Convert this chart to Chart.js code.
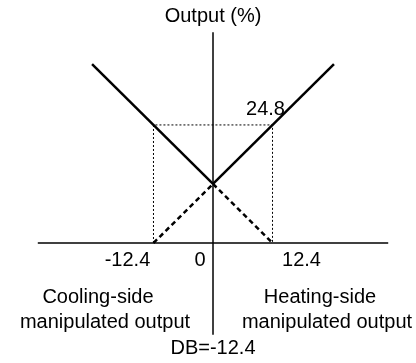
<!DOCTYPE html>
<html>
<head>
<meta charset="utf-8">
<script src="https://cdn.jsdelivr.net/npm/chart.js@4/dist/chart.umd.min.js"></script>
<style>
  html, body { margin: 0; padding: 0; background: #fff; }
  #wrap { width: 416px; height: 363px; }
</style>
</head>
<body>
<div id="wrap"><canvas id="myChart" width="416" height="363"></canvas></div>
<script>
// dead band and the output where both sides meet
const db = 12.4;
const crossOutput = 12.4;
const guideOutput = 24.8;

// cooling side: solid part above the crossing, dashed continuation below
const coolSolidX = [-25.2, 0];
const coolSolidY = [37.6, 12.4];
const coolDashX = [0, 12.4];
const coolDashY = [12.4, 0];

// heating side
const heatSolidX = [0, 25.2];
const heatSolidY = [12.4, 37.6];
const heatDashX = [-12.4, 0];
const heatDashY = [0, 12.4];

// dotted guide box
const guideX = [-12.4, -12.4, 12.4, 12.4];
const guideY = [0, 24.8, 24.8, 0];

// axis extents
const axisXRange = [-36.5, 36.5];
const axisYRange = [-19.3, 44.3];

// tick labels under the horizontal axis
const tickValues = [-12.4, 0, 12.4];
const tickLabels = ['-12.4', '0', '12.4'];

function pts(xs, ys) {
    return xs.map(function (x, i) { return { x: x, y: ys[i] }; });
}

function line(data, width, dash) {
    return {
        data: data,
        showLine: true,
        borderColor: '#000',
        borderWidth: width,
        borderDash: dash || [],
        pointRadius: 0,
        fill: false,
        tension: 0
    };
}

const FONT = '20px "Liberation Sans", Arial, sans-serif';

// text labels placed from the scale positions
const labelPlugin = {
    id: 'labels',
    afterDatasetsDraw: function (chart) {
        const ctx = chart.ctx;
        const xs = chart.scales.x, ys = chart.scales.y;
        const x0 = xs.getPixelForValue(0);
        const y0 = ys.getPixelForValue(0);
        ctx.save();
        ctx.fillStyle = '#000';
        ctx.font = FONT;
        ctx.textBaseline = 'middle';
        ctx.textAlign = 'center';

        ctx.fillText('Output (%)', x0, ys.getPixelForValue(axisYRange[1]) - 16);
        ctx.fillText(guideOutput.toFixed(1), xs.getPixelForValue(db) - 7, ys.getPixelForValue(guideOutput) - 15);

        // tick labels sit beside their positions
        const offsets = [-26, -13, 29];
        tickValues.forEach(function (v, i) {
            ctx.fillText(tickLabels[i], xs.getPixelForValue(v) + offsets[i], y0 + 17);
        });

        ctx.fillText('Cooling-side', x0 - 115, y0 + 54);
        ctx.fillText('manipulated output', x0 - 108, y0 + 79);
        ctx.fillText('Heating-side', x0 + 107, y0 + 54);
        ctx.fillText('manipulated output', x0 + 114, y0 + 79);
        ctx.fillText('DB=-' + db.toFixed(1), x0, y0 + 105);
        ctx.restore();
    }
};

const ctx = document.getElementById('myChart').getContext('2d');
const chart = new Chart(ctx, {
    type: 'scatter',
    data: {
        datasets: [
            line(pts(guideX, guideY), 1, [2, 2]),
            line(pts(axisXRange, [0, 0]), 1.5),
            line(pts([0, 0], axisYRange), 1.5),
            line(pts(coolDashX, coolDashY), 2.5, [5, 3.5]),
            line(pts(heatDashX, heatDashY), 2.5, [5, 3.5]),
            line(pts(coolSolidX, coolSolidY), 2.5),
            line(pts(heatSolidX, heatSolidY), 2.5)
        ]
    },
    options: {
        responsive: false,
        animation: false,
        layout: { padding: 0 },
        plugins: {
            legend: { display: false },
            tooltip: { enabled: false }
        },
        scales: {
            x: { type: 'linear', display: false, min: -44.375, max: 42.29 },
            y: { type: 'linear', display: false, min: -25.21, max: 51.05 }
        }
    },
    plugins: [labelPlugin]
});
</script>
</body>
</html>
